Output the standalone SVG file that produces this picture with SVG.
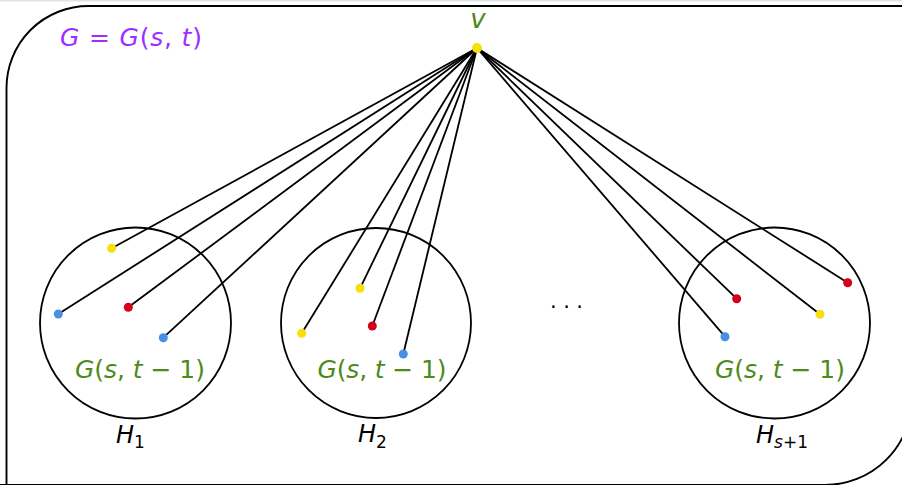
<svg xmlns="http://www.w3.org/2000/svg" width="902" height="485" viewBox="0 0 902 485">
<style>
.edge{stroke:#000;stroke-width:1.8;fill:none}
.ring{stroke:#000;stroke-width:1.8;fill:none}
.y{fill:#f7df0c}
.r{fill:#d5001c}
.b{fill:#4a90e2}
.m{font-family:"DejaVu Sans",sans-serif;font-style:italic}
.u{font-style:normal}
.g{fill:#4e8a1a}
.k{fill:#000}
</style>
<rect x="0" y="0" width="902" height="1.5" fill="#dfe4ea"/>
<g id="frame">
<path d="M6.5,486 L6.5,88 A82,82 0 0 1 88.5,6 L912,6 L912,399 A87,87 0 0 1 825,485 L-2,485" fill="none" stroke="#000" stroke-width="1.9"/>
</g>
<text x="60" y="46" class="m" font-size="25" fill="#9d2eff" textLength="142" lengthAdjust="spacing">G <tspan class="u">=</tspan> G<tspan class="u">(</tspan>s<tspan class="u">,</tspan> t<tspan class="u">)</tspan></text>
<g id="connectors">
<line class="edge" x1="477" y1="48" x2="111.7" y2="248.3"/>
<line class="edge" x1="477" y1="48" x2="58.3" y2="314"/>
<line class="edge" x1="477" y1="48" x2="128.3" y2="307.3"/>
<line class="edge" x1="477" y1="48" x2="163.3" y2="337.7"/>
<line class="edge" x1="477" y1="48" x2="301.7" y2="333.3"/>
<line class="edge" x1="477" y1="48" x2="360" y2="288.3"/>
<line class="edge" x1="477" y1="48" x2="372.3" y2="326"/>
<line class="edge" x1="477" y1="48" x2="403.3" y2="354"/>
<line class="edge" x1="477" y1="48" x2="847.7" y2="282.7"/>
<line class="edge" x1="477" y1="48" x2="736.7" y2="298.7"/>
<line class="edge" x1="477" y1="48" x2="820" y2="314.3"/>
<line class="edge" x1="477" y1="48" x2="725" y2="336.7"/>
</g>
<g id="v">
<circle class="y" cx="477" cy="48" r="5"/>
<text x="478" y="28" class="m g" font-size="26" text-anchor="middle">v</text>
</g>
<g id="H1">
<circle class="ring" cx="135.5" cy="323" r="95.5"/>
<circle class="y" cx="111.7" cy="248.3" r="4.5"/>
<circle class="b" cx="58.3" cy="314" r="4.5"/>
<circle class="r" cx="128.3" cy="307.3" r="4.5"/>
<circle class="b" cx="163.3" cy="337.7" r="4.5"/>
<text x="75" y="378" class="m g" font-size="25" textLength="130" lengthAdjust="spacing">G<tspan class="u">(</tspan>s<tspan class="u">,</tspan> t <tspan class="u">− 1)</tspan></text>
<text x="116" y="442.5" class="m k" font-size="24">H<tspan class="u" font-size="17" dy="5.5">1</tspan></text>
</g>
<g id="H2">
<circle class="ring" cx="376" cy="323" r="95"/>
<circle class="y" cx="301.7" cy="333.3" r="4.5"/>
<circle class="y" cx="360" cy="288.3" r="4.5"/>
<circle class="r" cx="372.3" cy="326" r="4.5"/>
<circle class="b" cx="403.3" cy="354" r="4.5"/>
<text x="317.5" y="378" class="m g" font-size="25" textLength="129" lengthAdjust="spacing">G<tspan class="u">(</tspan>s<tspan class="u">,</tspan> t <tspan class="u">− 1)</tspan></text>
<text x="358" y="442" class="m k" font-size="24">H<tspan class="u" font-size="17" dy="5.5">2</tspan></text>
</g>
<g id="Hs1">
<circle class="ring" cx="774.5" cy="323" r="95.5"/>
<circle class="r" cx="847.7" cy="282.7" r="4.5"/>
<circle class="r" cx="736.7" cy="298.7" r="4.5"/>
<circle class="y" cx="820" cy="314.3" r="4.5"/>
<circle class="b" cx="725" cy="336.7" r="4.5"/>
<text x="715" y="378" class="m g" font-size="25" textLength="130" lengthAdjust="spacing">G<tspan class="u">(</tspan>s<tspan class="u">,</tspan> t <tspan class="u">− 1)</tspan></text>
<text x="756" y="442.5" class="m k" font-size="24">H<tspan font-size="17" dy="5.5">s<tspan class="u">+1</tspan></tspan></text>
</g>
<text x="550" y="308" font-family="DejaVu Sans,sans-serif" font-size="21" letter-spacing="6.5" fill="#000">...</text>
</svg>
